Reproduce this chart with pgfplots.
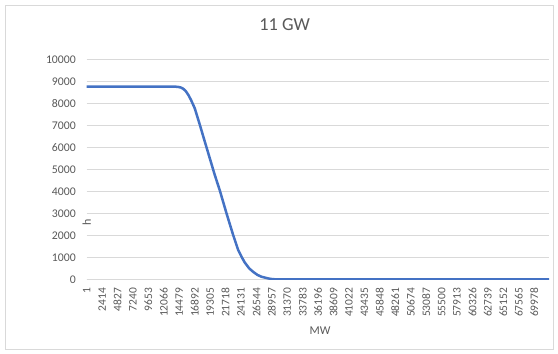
\documentclass[border=0pt]{standalone}
\usepackage{pgfplots}
\pgfplotsset{compat=1.18}
\usepackage{fontspec}
\setmainfont{Carlito}
\definecolor{txt}{HTML}{595959}
\definecolor{grd}{HTML}{D9D9D9}
\definecolor{ln}{HTML}{4472C4}
\begin{document}
\begin{tikzpicture}
\path[fill=white] (-86.7bp,-74.7bp) rectangle (471.3bp,279.3bp);
\draw[grd, line width=0.75bp] (-81.7bp,-69.7bp) rectangle (466.3bp,274.3bp);
\begin{axis}[
  at={(0,0)}, anchor=south west,
  scale only axis, width=462.3bp, height=220bp,
  xmin=1, xmax=72300, ymin=0, ymax=10000,
  scaled ticks=false,
  ytick={0,1000,...,10000},
  xtick={1,2414,4827,7240,9653,12066,14479,16892,19305,21718,24131,26544,28957,31370,33783,36196,38609,41022,43435,45848,48261,50674,53087,55500,57913,60326,62739,65152,67565,69978},
  xticklabels={1,2414,4827,7240,9653,12066,14479,16892,19305,21718,24131,26544,28957,31370,33783,36196,38609,41022,43435,45848,48261,50674,53087,55500,57913,60326,62739,65152,67565,69978},
  /pgf/number format/assume math mode=true,
  /pgf/number format/1000 sep={},
  /pgf/number format/fixed,
  ymajorgrids, grid style={grd, line width=0.75bp},
  axis lines*=left,
  y axis line style={draw=none},
  x axis line style={grd, line width=0.75bp},
  major tick length=0pt,
  yticklabel style={font=\fontsize{11.8}{13}\selectfont, text=txt, anchor=east, inner sep=0pt, xshift=-10.7bp},
  xticklabel style={font=\fontsize{11.5}{13}\selectfont, text=txt, yshift=-8.4bp, rotate=90, anchor=east, inner sep=0pt},
  xlabel={MW}, ylabel={h},
  label style={font=\fontsize{12}{14}\selectfont, text=txt},
  x label style={at={(axis description cs:0.505,0)}, anchor=center, yshift=-51.7bp},
  y label style={at={(axis description cs:0,0.506)}, anchor=center, xshift=-54.7bp},
  title={11 GW},
  title style={font=\fontsize{18.4}{21}\selectfont, text=txt, at={(axis description cs:0.428,1)}, anchor=center, yshift=28.3bp},
]
\addplot[ln, line width=2.5bp, line join=round] coordinates {
(1,8760) (13200,8760) (13800,8757) (14300,8745) (14750,8715) (15100,8660)
(15500,8550) (15900,8380) (16300,8160) (16903,7770) (17686,7030) (18468,6260)
(19251,5500) (20033,4740) (20816,4040) (21864,3000) (22897,2020) (23680,1340)
(24300,980) (24728,760) (25400,500) (26027,340) (26700,200) (27341,115)
(28374,40) (29000,10) (29423,0) (72300,0)
};
\end{axis}
\end{tikzpicture}
\end{document}
